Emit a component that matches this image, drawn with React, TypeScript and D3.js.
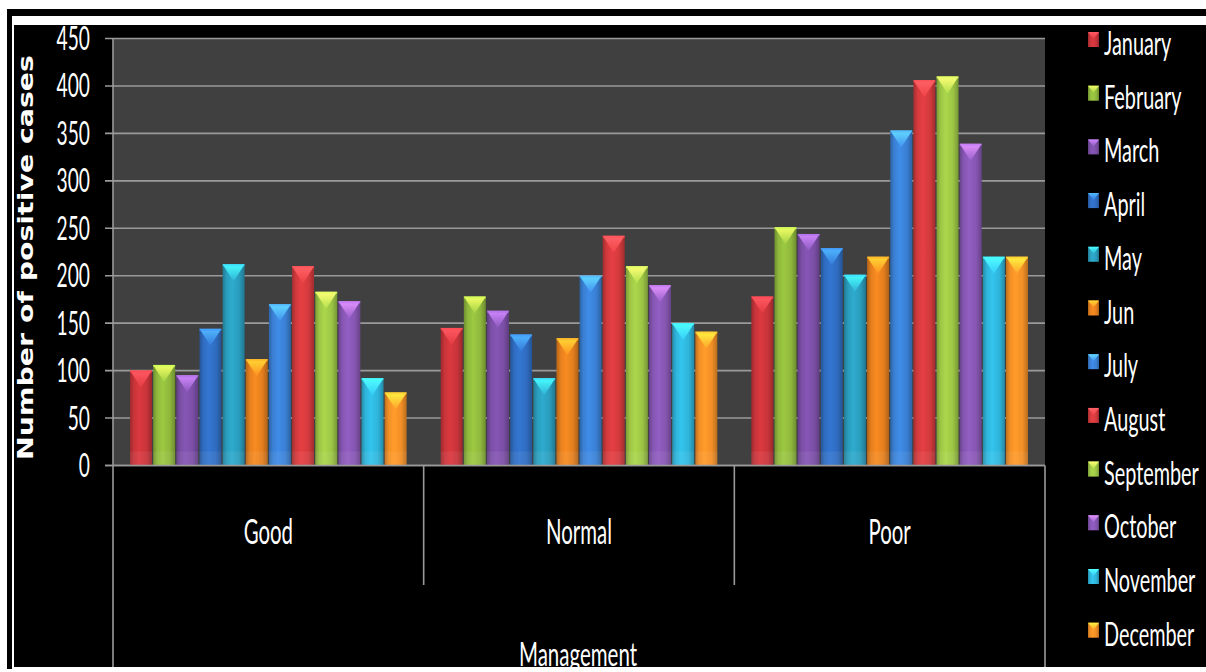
import React from "react";
import * as d3 from "d3";

// Categories and series
const groups = ["Good", "Normal", "Poor"];
const months = [
  "January", "February", "March", "April", "May", "Jun",
  "July", "August", "September", "October", "November", "December",
];
const goodValues = [100, 106, 95, 144, 212, 112, 170, 210, 183, 173, 92, 77];
const normalValues = [145, 178, 163, 138, 92, 134, 200, 242, 210, 190, 150, 141];
const poorValues = [178, 251, 244, 229, 201, 220, 353, 406, 410, 339, 220, 220];
const yTicks = [0, 50, 100, 150, 200, 250, 300, 350, 400, 450];
const monthColors = [
  "#c8343a", "#8fb83c", "#7b4fa6", "#2f6cc0", "#2a9cbc", "#e47f1e",
  "#3a80d4", "#d23a3d", "#9cc545", "#8656b2", "#2fb4da", "#f28f26",
];

const seriesByGroup: Record<string, number[]> = {
  Good: goodValues,
  Normal: normalValues,
  Poor: poorValues,
};

const W = 1206;
const H = 672;
const plot = { left: 113, right: 1045, top: 38.5, bottom: 465.5 };
const FONT = "Lato, 'Open Sans', sans-serif";

function SText(props: {
  x: number; y: number; sx?: number; size: number;
  anchor?: "start" | "middle" | "end"; children: React.ReactNode;
}) {
  const { x, y, sx = 0.62, size, anchor = "start", children } = props;
  return (
    <text
      transform={`translate(${x},${y}) scale(${sx},1)`}
      fontSize={size}
      fontFamily={FONT}
      textAnchor={anchor}
      fill="#ffffff"
    >
      {children}
    </text>
  );
}

export default function App() {
  const x0 = d3.scaleBand<string>().domain(groups).range([plot.left, plot.right]);
  const inset = 17;
  const x1 = d3
    .scaleBand<string>()
    .domain(months)
    .range([inset, x0.bandwidth() - inset])
    .paddingInner(0.05);
  const y = d3.scaleLinear().domain([0, 450]).range([plot.bottom, plot.top]);

  const shade = (c: string, k: number) => d3.color(c)!.darker(k).formatHex();
  const light = (c: string, k: number) => d3.color(c)!.brighter(k).formatHex();

  const bar = (key: string, color: string, bx: number, top: number, w: number, bottom: number) => {
    const tri = Math.min(17, bottom - top);
    return (
      <g key={key}>
        <rect x={bx} y={top} width={w} height={bottom - top} fill={`url(#g-${color.slice(1)})`} />
        <polygon
          points={`${bx},${top} ${bx + w},${top} ${bx + w / 2},${top + tri}`}
          fill={`url(#t-${color.slice(1)})`}
        />
        <rect x={bx} y={top} width={w} height={2} fill={light(color, 0.9)} opacity={0.6} />
        <rect x={bx} y={bottom - 14} width={w} height={14} fill="#ffffff" opacity={0.06} />
      </g>
    );
  };

  const legendX = 1088;
  const legendBase = 55;
  const legendStep = 53.7;

  return (
    <svg width={W} height={H} style={{ position: "absolute", left: 0, top: 0 }}>
      <defs>
        {monthColors.map((c) => (
          <linearGradient key={"g" + c} id={`g-${c.slice(1)}`} x1="0" x2="1" y1="0" y2="0">
            <stop offset="0" stopColor={shade(c, 0.7)} />
            <stop offset="0.18" stopColor={c} />
            <stop offset="0.42" stopColor={light(c, 0.25)} />
            <stop offset="0.75" stopColor={c} />
            <stop offset="1" stopColor={shade(c, 0.75)} />
          </linearGradient>
        ))}
        {monthColors.map((c) => (
          <linearGradient key={"t" + c} id={`t-${c.slice(1)}`} x1="0" x2="0" y1="0" y2="1">
            <stop offset="0" stopColor={light(c, 1.5)} />
            <stop offset="1" stopColor={light(c, 0.35)} />
          </linearGradient>
        ))}
      </defs>

      {/* frame */}
      <rect x={0} y={0} width={W} height={H} fill="#ffffff" />
      <rect x={7} y={9} width={W - 7} height={7} fill="#000000" />
      <rect x={7} y={9} width={5} height={660} fill="#000000" />
      <rect x={14} y={25} width={W - 14} height={642} fill="#000000" />

      {/* plot background */}
      <rect
        x={plot.left}
        y={plot.top}
        width={plot.right - plot.left}
        height={plot.bottom - plot.top}
        fill="#404040"
      />

      {/* gridlines and y ticks */}
      {yTicks.map((t) => (
        <g key={"tick" + t}>
          <line
            x1={plot.left - 8}
            x2={plot.right}
            y1={y(t)}
            y2={y(t)}
            stroke="#9a9a9a"
            strokeWidth={1.6}
          />
          <SText x={90} y={y(t) + 11.5} size={32} anchor="end" sx={0.6}>
            {t}
          </SText>
        </g>
      ))}

      {/* bars */}
      {groups.map((g) =>
        months.map((m, i) => {
          const v = seriesByGroup[g][i];
          const bx = (x0(g) as number) + (x1(m) as number);
          return bar(`${g}-${m}`, monthColors[i], bx, y(v), x1.bandwidth(), y(0));
        })
      )}

      {/* axes */}
      <line x1={plot.left} x2={plot.left} y1={plot.top} y2={667} stroke="#9a9a9a" strokeWidth={1.6} />
      <line x1={plot.right} x2={plot.right} y1={plot.bottom} y2={667} stroke="#9a9a9a" strokeWidth={1.6} />
      <line x1={plot.left - 8} x2={plot.right} y1={y(0)} y2={y(0)} stroke="#9a9a9a" strokeWidth={1.6} />
      {groups.slice(1).map((g) => (
        <line
          key={"sep" + g}
          x1={x0(g) as number}
          x2={x0(g) as number}
          y1={y(0)}
          y2={585}
          stroke="#9a9a9a"
          strokeWidth={1.6}
        />
      ))}

      {/* category labels */}
      {groups.map((g) => (
        <SText key={"cat" + g} x={(x0(g) as number) + x0.bandwidth() / 2} y={544} size={34} anchor="middle" sx={0.6}>
          {g}
        </SText>
      ))}
      <SText x={578} y={666} size={32} anchor="middle" sx={0.64}>
        Management
      </SText>

      {/* y-axis title */}
      <text
        transform="translate(25.5,257.5) scale(0.85,1) rotate(-90)"
        fontSize={24}
        fontWeight="bold"
        fontFamily="'DejaVu Sans', sans-serif"
        textAnchor="middle"
        dominantBaseline="central"
        textLength={405}
        lengthAdjust="spacingAndGlyphs"
        fill="#ffffff"
      >
        Number of positive cases
      </text>

      {/* legend */}
      {months.map((m, i) => {
        const base = legendBase + i * legendStep;
        const c = monthColors[i];
        return (
          <g key={"leg" + m}>
            <rect x={legendX} y={base - 23} width={11} height={15} fill={`url(#g-${c.slice(1)})`} />
            <polygon
              points={`${legendX},${base - 23} ${legendX + 11},${base - 23} ${legendX + 5.5},${base - 16}`}
              fill={`url(#t-${c.slice(1)})`}
            />
            <SText x={1104} y={base} size={32} sx={0.62}>
              {m}
            </SText>
          </g>
        );
      })}
    </svg>
  );
}
